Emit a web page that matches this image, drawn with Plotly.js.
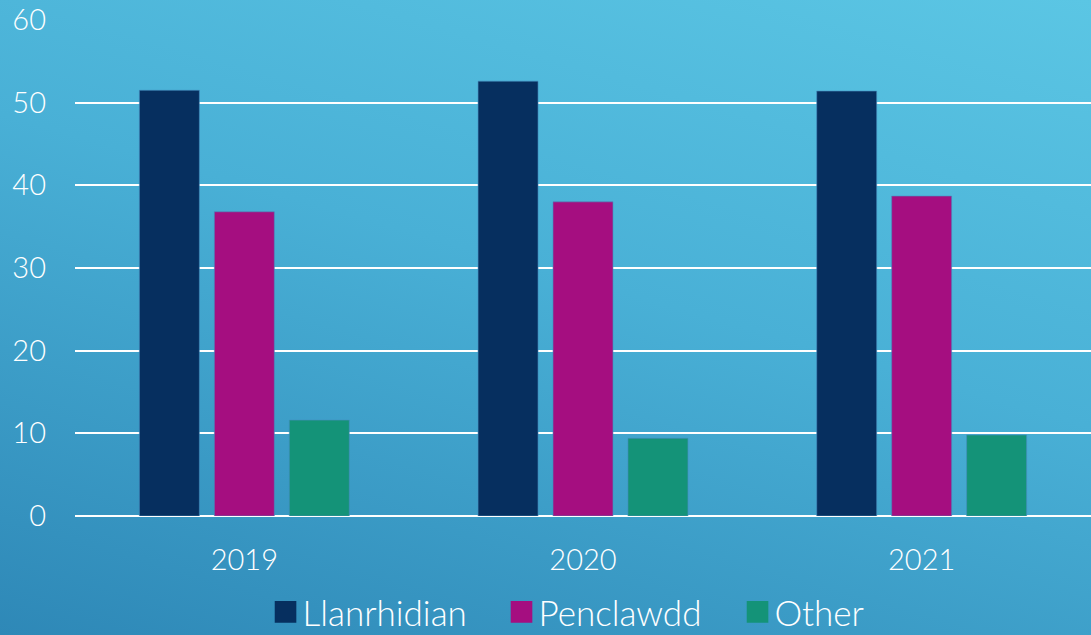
<!DOCTYPE html>
<html>
<head>
<meta charset="utf-8">
<script src="https://cdn.plot.ly/plotly-3.0.1.min.js"></script>
<style>
  html, body { margin:0; padding:0; }
  body { width:1091px; height:635px; overflow:hidden;
    background: linear-gradient(196deg, #5bc6e4 0%, #49b0d6 45%, #2e88b7 100%); }
  #chart { width:1091px; height:635px; }
</style>
</head>
<body>
<div id="chart"></div>
<script>
const years = ['2019', '2020', '2021'];
const llanrhidian = [51.5, 52.6, 51.4];
const penclawdd = [36.8, 38.0, 38.7];
const other = [11.6, 9.4, 9.8];
const seriesNames = ['Llanrhidian', 'Penclawdd', 'Other'];
const seriesColors = ['#062f5f', '#a50e80', '#149378'];
const yTicks = [0, 10, 20, 30, 40, 50, 60];

const values = [llanrhidian, penclawdd, other];
const traces = values.map((v, i) => ({
  type: 'bar',
  name: seriesNames[i],
  x: years,
  y: v,
  marker: { color: seriesColors[i], line: { color: 'rgba(70,140,190,0.6)', width: 1 } },
  hoverinfo: 'x+y+name'
}));

const font = "Lato, 'Open Sans', 'DejaVu Sans', sans-serif";
const layout = {
  width: 1091, height: 635,
  margin: { l: 75, r: 0, t: 20, b: 119, autoexpand: false },
  paper_bgcolor: 'rgba(0,0,0,0)',
  plot_bgcolor: 'rgba(0,0,0,0)',
  barmode: 'group',
  bargap: 0.336,
  bargroupgap: 0.2,
  font: { family: font, color: '#ffffff', size: 28, weight: 300 },
  xaxis: {
    showgrid: false, zeroline: false, showline: false, automargin: false,
    ticks: '', tickfont: { size: 29, color: '#ffffff', weight: 300 },
    ticklabelstandoff: 24
  },
  yaxis: {
    range: [0, 60], tickvals: yTicks, ticktext: yTicks.map(String), automargin: false,
    showgrid: true, gridcolor: '#ffffff', gridwidth: 2,
    zeroline: true, zerolinecolor: '#ffffff', zerolinewidth: 2,
    showline: false, ticks: '', tickfont: { size: 29, color: '#ffffff', weight: 300 },
    ticklabelstandoff: 28
  },
  legend: {
    orientation: 'h', x: 0.533, xanchor: 'center', yref: 'container', y: 0.036, yanchor: 'middle',
    font: { size: 35, color: '#ffffff', weight: 300 }, itemwidth: 30, traceorder: 'normal',
    entrywidthmode: 'pixels', entrywidth: 191,
    bgcolor: 'rgba(0,0,0,0)'
  },
  showlegend: true
};

function enlargeLegendSymbols() {
  document.querySelectorAll('.legend .legendpoints path').forEach(p => {
    p.setAttribute('transform', 'translate(23,0) scale(1.8)');
    p.style.strokeWidth = '0';
  });
}

Plotly.newPlot('chart', traces, layout, { displayModeBar: false, staticPlot: true })
  .then(enlargeLegendSymbols);
</script>
</body>
</html>
